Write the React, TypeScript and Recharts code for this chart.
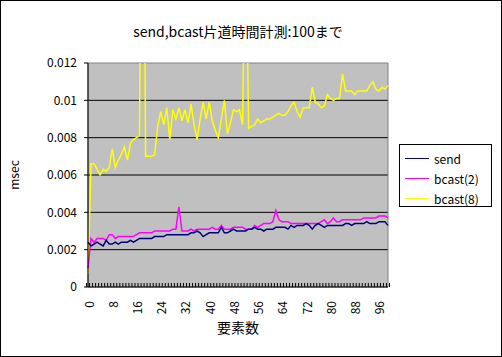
import { CartesianGrid, Line, LineChart, ReferenceArea, XAxis, YAxis } from "recharts";

const categories = Array.from({ length: 100 }, (_, i) => String(i));

const sendMs = [
  0.0024, 0.0022, 0.0023, 0.0024, 0.0023, 0.0022, 0.0025, 0.0023, 0.0023, 0.0024,
  0.0023, 0.0024, 0.0024, 0.0024, 0.0025, 0.0024, 0.0025, 0.0026, 0.0026, 0.0026,
  0.0026, 0.0026, 0.0027, 0.0027, 0.0027, 0.0027, 0.0028, 0.0028, 0.0028, 0.0028,
  0.0028, 0.0028, 0.0028, 0.0028, 0.0029, 0.0029, 0.003, 0.0029, 0.0027, 0.0028,
  0.0029, 0.0029, 0.0029, 0.0029, 0.0032, 0.0029, 0.0029, 0.003, 0.0031, 0.003,
  0.003, 0.003, 0.003, 0.0031, 0.0031, 0.0032, 0.0031, 0.0031, 0.003, 0.0031,
  0.0031, 0.0031, 0.0032, 0.0032, 0.0032, 0.0032, 0.0031, 0.0033, 0.0032, 0.0033,
  0.0033, 0.0033, 0.0034, 0.0033, 0.0031, 0.0033, 0.0034, 0.0033, 0.0032, 0.0033,
  0.0033, 0.0033, 0.0033, 0.0033, 0.0033, 0.0034, 0.0034, 0.0033, 0.0034, 0.0034,
  0.0034, 0.0034, 0.0035, 0.0034, 0.0034, 0.0034, 0.0035, 0.0035, 0.0035, 0.0033,
];

const bcast2Ms = [
  0.001, 0.0026, 0.0024, 0.0026, 0.0026, 0.0026, 0.0025, 0.0028, 0.0028, 0.0026,
  0.0027, 0.0027, 0.0027, 0.0027, 0.0027, 0.0027, 0.0028, 0.0029, 0.0029, 0.0029,
  0.0029, 0.0029, 0.003, 0.003, 0.003, 0.003, 0.003, 0.003, 0.0031, 0.0031,
  0.0043, 0.003, 0.003, 0.003, 0.0031, 0.003, 0.0031, 0.0031, 0.0031, 0.0031,
  0.0031, 0.0032, 0.0031, 0.0031, 0.0033, 0.0031, 0.0031, 0.0031, 0.0032, 0.0032,
  0.0032, 0.0032, 0.0031, 0.0031, 0.0031, 0.0033, 0.0032, 0.0033, 0.0034, 0.0034,
  0.0034, 0.0035, 0.0041, 0.0036, 0.0035, 0.0035, 0.0035, 0.0034, 0.0034, 0.0034,
  0.0034, 0.0034, 0.0034, 0.0034, 0.0034, 0.0034, 0.0034, 0.0035, 0.0036, 0.0034,
  0.0035, 0.0037, 0.0035, 0.0035, 0.0036, 0.0036, 0.0036, 0.0036, 0.0036, 0.0036,
  0.0036, 0.0037, 0.0037, 0.0037, 0.0037, 0.0037, 0.0038, 0.0038, 0.0038, 0.0037,
];

const bcast8Ms = [
  0.0007, 0.0066, 0.0066, 0.0063, 0.006, 0.0063, 0.0062, 0.0064, 0.0074, 0.0064,
  0.0068, 0.0071, 0.0075, 0.0068, 0.0077, 0.0079, 0.008, 0.0081, 0.034, 0.007,
  0.007, 0.007, 0.0071, 0.0086, 0.0094, 0.0087, 0.0096, 0.0079, 0.0095, 0.009,
  0.0096, 0.0089, 0.0095, 0.0088, 0.0098, 0.0087, 0.0079, 0.009, 0.0099, 0.009,
  0.0099, 0.0089, 0.0084, 0.008, 0.009, 0.01, 0.0082, 0.0088, 0.0095, 0.0094,
  0.0095, 0.0087, 0.02, 0.0085, 0.0086, 0.0087, 0.009, 0.0088, 0.0089, 0.009,
  0.009, 0.0091, 0.0092, 0.0093, 0.0092, 0.0092, 0.0094, 0.0097, 0.0099, 0.0094,
  0.0091, 0.0096, 0.0096, 0.0096, 0.0107, 0.0099, 0.0098, 0.0096, 0.0097, 0.0103,
  0.0101, 0.01, 0.0101, 0.0101, 0.0114, 0.0105, 0.0105, 0.0105, 0.0103, 0.0105,
  0.0105, 0.0105, 0.0105, 0.0108, 0.011, 0.0106, 0.0105, 0.0107, 0.0106, 0.0108,
];

const yTicks = [0, 0.002, 0.004, 0.006, 0.008, 0.01, 0.012];
const gridValues = [0.002, 0.004, 0.006, 0.008, 0.01];

const seriesInfo = [
  { key: "send", name: "send", color: "#000080" },
  { key: "bcast2", name: "bcast(2)", color: "#ff00ff" },
  { key: "bcast8", name: "bcast(8)", color: "#ffff00" },
];

const data = categories.map((c, i) => ({
  n: c,
  send: sendMs[i],
  bcast2: bcast2Ms[i],
  bcast8: bcast8Ms[i],
}));

const FONT = "'Noto Sans CJK JP', 'Noto Sans', sans-serif";

function CategoryTick(props: any) {
  const { x, y, payload, index } = props;
  const half = 1.5;
  const label = index % 8 === 0;
  return (
    <g>
      <line x1={x - half} y1={y} x2={x - half} y2={y - 4} stroke="#000" />
      {index === categories.length - 1 && (
        <line x1={x + half} y1={y} x2={x + half} y2={y - 4} stroke="#000" />
      )}
      {label && (
        <text
          x={x}
          y={y + 14}
          transform={`rotate(-90 ${x} ${y + 14})`}
          textAnchor="end"
          dominantBaseline="central"
          fontSize={12}
          fontFamily={FONT}
          fill="#000"
        >
          {payload.value}
        </text>
      )}
    </g>
  );
}

export default function App() {
  return (
    <div style={{ position: "absolute", left: 0, top: 0, width: 502, height: 357, background: "#fff", fontFamily: FONT }}>
      <LineChart width={502} height={357} data={data} margin={{ top: 63, right: 114, bottom: 0, left: 0 }}>
        <CartesianGrid fill="#c0c0c0" vertical={false} stroke="#000" horizontalValues={gridValues} />
        <ReferenceArea y1={0} y2={0.012} fill="none" stroke="#808080" ifOverflow="visible" />
        <XAxis
          dataKey="n"
          interval={0}
          height={70}
          tickSize={0}
          tickMargin={0}
          tickLine={false}
          axisLine={{ stroke: "#000" }}
          tick={<CategoryTick />}
        />
        <YAxis
          width={88}
          domain={[0, 0.012]}
          ticks={yTicks}
          allowDataOverflow
          tickSize={4}
          tickMargin={7}
          axisLine={{ stroke: "#000" }}
          tickLine={{ stroke: "#000" }}
          tick={{ fill: "#000", fontSize: 12, fontFamily: FONT }}
          tickFormatter={(v: number) => (v === 0 ? "0" : String(+v.toFixed(3)))}
        />
        {seriesInfo
          .slice()
          .reverse()
          .map((s) => (
            <Line
              key={s.key}
              type="linear"
              dataKey={s.key}
              name={s.name}
              stroke={s.color}
              strokeWidth={1.5}
              dot={false}
              activeDot={false}
              isAnimationActive={false}
            />
          ))}
      </LineChart>

      <div style={{ position: "absolute", left: 0, top: 21, width: 476, textAlign: "center", fontSize: 14, lineHeight: "20px" }}>
        send,bcast片道時間計測:100まで
      </div>
      <div style={{ position: "absolute", left: 0, top: 318, width: 476, textAlign: "center", fontSize: 14, lineHeight: "18px" }}>
        要素数
      </div>
      <div
        style={{
          position: "absolute",
          left: 14,
          top: 175,
          fontSize: 12,
          lineHeight: "14px",
          transform: "translate(-50%, -50%) rotate(-90deg)",
        }}
      >
        msec
      </div>

      <div
        style={{
          position: "absolute",
          left: 399,
          top: 144,
          width: 93,
          height: 63,
          boxSizing: "border-box",
          border: "1px solid #000",
          background: "#fff",
          padding: "3px 0 0 5px",
        }}
      >
        {seriesInfo.map((s) => (
          <div key={s.key} style={{ display: "flex", alignItems: "center", height: 20, fontSize: 12 }}>
            <span style={{ display: "inline-block", width: 24, height: 0, borderTop: `1px solid ${s.color}`, marginRight: 5 }} />
            <span>{s.name}</span>
          </div>
        ))}
      </div>

      <div
        style={{
          position: "absolute",
          left: 0,
          top: 0,
          width: 502,
          height: 357,
          boxSizing: "border-box",
          border: "1px solid #000",
          pointerEvents: "none",
        }}
      />
    </div>
  );
}
